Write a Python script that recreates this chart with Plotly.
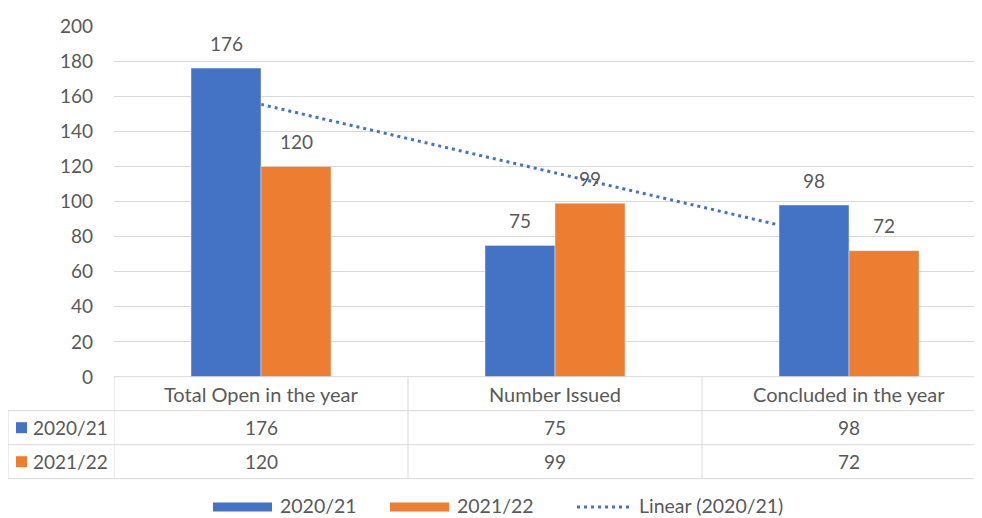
import numpy as np
import plotly.graph_objects as go

# ---------------- data ----------------
categories = ["Total Open in the year", "Number Issued", "Concluded in the year"]
series_names = ["2020/21", "2021/22"]
values_2020_21 = [176, 75, 98]
values_2021_22 = [120, 99, 72]
trend_name = "Linear (2020/21)"
y_ticks = list(range(0, 201, 20))

# ---------------- styling ----------------
BLUE = "#4472C4"
ORANGE = "#ED7D31"
TXT = "#595959"
GRID = "#D9D9D9"
FONT = "Lato"
FS = 19
FS_CAT = 20
FS_LEG = 19.5

OFF = 8  # page body margin in the browser
WIN_W, WIN_H = 982, 518
W, H = WIN_W - OFF, WIN_H - OFF
PLOT_L, PLOT_T, PLOT_B = 114, 25.7, 376.7  # window pixel positions of plot area
L = PLOT_L - OFF
T = round(PLOT_T - OFF)
B = round(H - (PLOT_B - OFF))
R = 0
plot_w = W - L - R
plot_h = H - T - B
cat_px = 294.0
x_idx = np.arange(len(categories))
x_range = [-0.5, -0.5 + plot_w / cat_px]
bar_w = 70 / cat_px


def px_x(p):
    return (p - OFF - L) / plot_w


def px_y(p):
    return (H - B - (p - OFF)) / plot_h


fig = go.Figure()

# trendline (base axes, drawn beneath bars)
slope, intercept = np.polyfit(x_idx, values_2020_21, 1)
trend_y = intercept + slope * x_idx
fig.add_trace(go.Scatter(
    x=x_idx, y=trend_y, mode="lines", name=trend_name,
    line=dict(color=BLUE, width=3, dash="3px,4px"),
    xaxis="x", yaxis="y", showlegend=False, hoverinfo="skip"))

# bars on overlaying axes so they sit above the trendline
fig.add_trace(go.Bar(
    x=x_idx, y=values_2020_21, name=series_names[0], marker_color=BLUE,
    width=bar_w, offset=-bar_w, xaxis="x2", yaxis="y2", showlegend=False))
fig.add_trace(go.Bar(
    x=x_idx, y=values_2021_22, name=series_names[1], marker_color=ORANGE,
    width=bar_w, offset=0, xaxis="x2", yaxis="y2", showlegend=False))

annotations = []
shapes = []

# data labels
for vals, off in ((values_2020_21, -bar_w / 2), (values_2021_22, bar_w / 2)):
    for i, v in zip(x_idx, vals):
        annotations.append(dict(
            x=i + off, y=v, xref="x2", yref="y2", text=str(v), showarrow=False,
            yshift=25, font=dict(family=FONT, size=FS, color=TXT)))

# ---------------- data table ----------------
row_top = PLOT_B
row_h = 34
table_left = 8
line_style = dict(color=GRID, width=1)
# horizontal lines
shapes.append(dict(type="line", xref="paper", yref="paper",
                   x0=px_x(PLOT_L), x1=1, y0=px_y(row_top), y1=px_y(row_top), line=line_style))
for k in (1, 2, 3):
    yy = px_y(row_top + k * row_h)
    shapes.append(dict(type="line", xref="paper", yref="paper",
                       x0=px_x(table_left), x1=1, y0=yy, y1=yy, line=line_style))
# vertical lines
shapes.append(dict(type="line", xref="paper", yref="paper",
                   x0=px_x(table_left), x1=px_x(table_left),
                   y0=px_y(row_top + row_h), y1=px_y(row_top + 3 * row_h), line=line_style))
for b in [-0.5] + [i + 0.5 for i in x_idx[:-1]]:
    shapes.append(dict(type="line", xref="x", yref="paper", x0=b, x1=b,
                       y0=px_y(row_top), y1=px_y(row_top + 3 * row_h), line=line_style))

# category labels row
for i, c in zip(x_idx, categories):
    annotations.append(dict(x=i, y=px_y(row_top + row_h / 2), xref="x", yref="paper",
                            text=c, showarrow=False, yanchor="middle",
                            font=dict(family=FONT, size=FS_CAT, color=TXT)))
# value rows
for r, (name, vals, col) in enumerate(((series_names[0], values_2020_21, BLUE),
                                        (series_names[1], values_2021_22, ORANGE))):
    yc = row_top + (r + 1.5) * row_h
    for i, v in zip(x_idx, vals):
        annotations.append(dict(x=i, y=px_y(yc), xref="x", yref="paper",
                                text=str(v), showarrow=False, yanchor="middle",
                                font=dict(family=FONT, size=FS, color=TXT)))
    shapes.append(dict(type="rect", xref="paper", yref="paper",
                       x0=px_x(16), x1=px_x(27), y0=px_y(yc - 5.5), y1=px_y(yc + 5.5),
                       fillcolor=col, line=dict(width=0)))
    annotations.append(dict(x=px_x(31), y=px_y(yc), xref="paper", yref="paper",
                            text=name, showarrow=False, xanchor="left", yanchor="middle",
                            font=dict(family=FONT, size=FS, color=TXT)))

# ---------------- legend ----------------
leg_y = 507
legend_items = [
    ("bar", BLUE, series_names[0], 213, 272),
    ("bar", ORANGE, series_names[1], 390, 449),
    ("dot", BLUE, trend_name, 577, 631),
]
for kind, col, label, x0, x1 in legend_items:
    if kind == "bar":
        shapes.append(dict(type="rect", xref="paper", yref="paper",
                           x0=px_x(x0), x1=px_x(x1), y0=px_y(leg_y - 4.5), y1=px_y(leg_y + 4.5),
                           fillcolor=col, line=dict(width=0)))
    else:
        shapes.append(dict(type="line", xref="paper", yref="paper",
                           x0=px_x(x0), x1=px_x(x1), y0=px_y(leg_y), y1=px_y(leg_y),
                           line=dict(color=col, width=3, dash="3px,4px")))
    annotations.append(dict(x=px_x(x1 + 6), y=px_y(leg_y - 2), xref="paper", yref="paper",
                            text=label, showarrow=False, xanchor="left", yanchor="middle",
                            font=dict(family=FONT, size=FS_LEG, color=TXT)))

fig.update_layout(
    width=W, height=H,
    margin=dict(l=L, r=R, t=T, b=B, pad=0),
    paper_bgcolor="white", plot_bgcolor="white",
    font=dict(family=FONT, size=FS, color=TXT),
    xaxis=dict(range=x_range, showticklabels=False, showgrid=False,
               zeroline=False, showline=False, fixedrange=True),
    yaxis=dict(range=[0, 200], tickvals=y_ticks, showgrid=True, gridcolor=GRID,
               gridwidth=1, zeroline=False, showline=False, ticks="",
               ticklabelstandoff=20, tickfont=dict(family=FONT, size=FS, color=TXT)),
    xaxis2=dict(overlaying="x", range=x_range, visible=False),
    yaxis2=dict(overlaying="y", range=[0, 200], visible=False),
    shapes=shapes,
    annotations=annotations,
    showlegend=False,
)

fig.write_html("out.html")
